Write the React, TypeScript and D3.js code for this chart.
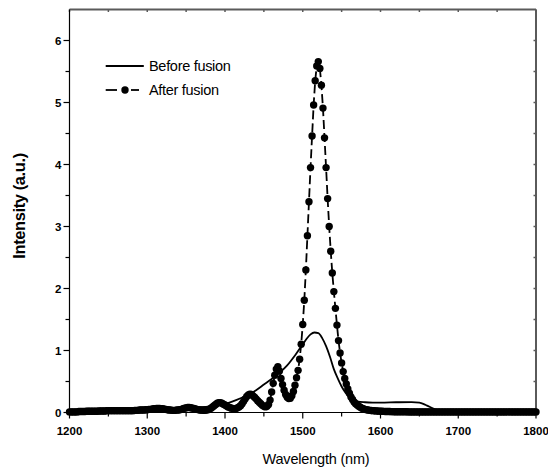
import React from "react";
import * as d3 from "d3";

const W = 548;
const H = 468;

// After fusion: sampled every 2 nm from 1200 to 1800
const afterWavelengths: number[] = d3.range(1200, 1801, 2);
const afterValues: number[] = [
  // 1200-1300
  0.01, 0.01, 0.01, 0.01, 0.01, 0.01, 0.015, 0.015, 0.015, 0.015, 0.015, 0.02, 0.02, 0.02, 0.02, 0.02,
  0.02, 0.02, 0.02, 0.025, 0.025, 0.025, 0.025, 0.025, 0.03, 0.03, 0.03, 0.03, 0.03, 0.03, 0.03, 0.03, 0.03, 0.03, 0.03, 0.03,
  0.03, 0.03, 0.03, 0.03, 0.03, 0.03, 0.035, 0.035, 0.035, 0.04, 0.04, 0.04, 0.04, 0.045, 0.045,
  // 1302-1340
  0.05, 0.05, 0.055, 0.06, 0.06, 0.065, 0.065, 0.065, 0.06, 0.06, 0.055, 0.05, 0.045, 0.04, 0.04, 0.035, 0.035, 0.035, 0.04, 0.04,
  // 1342-1380
  0.045, 0.05, 0.06, 0.07, 0.075, 0.08, 0.08, 0.078, 0.07, 0.065, 0.058, 0.05, 0.045, 0.04, 0.038, 0.036, 0.036, 0.04, 0.045, 0.055,
  // 1382-1420
  0.07, 0.09, 0.11, 0.13, 0.15, 0.16, 0.16, 0.15, 0.135, 0.12, 0.105, 0.09, 0.08, 0.07, 0.065, 0.063, 0.065, 0.075, 0.09, 0.11,
  // 1422-1460
  0.14, 0.18, 0.22, 0.26, 0.285, 0.295, 0.29, 0.27, 0.245, 0.22, 0.19, 0.165, 0.14, 0.115, 0.1, 0.09, 0.1, 0.13, 0.2, 0.33,
  // 1462-1500
  0.47, 0.6, 0.7, 0.74, 0.67, 0.55, 0.45, 0.36, 0.29, 0.245, 0.225, 0.23, 0.27, 0.34, 0.44, 0.56, 0.68, 0.86, 1.1, 1.42,
  // 1502-1540
  1.81, 2.3, 2.85, 3.4, 3.95, 4.46, 4.96, 5.35, 5.59, 5.66, 5.55, 5.28, 4.91, 4.43, 3.95, 3.45, 3.0, 2.6, 2.25, 1.95,
  // 1542-1580
  1.68, 1.41, 1.16, 0.96, 0.8, 0.66, 0.55, 0.46, 0.38, 0.31, 0.25, 0.21, 0.17, 0.14, 0.12, 0.1, 0.085, 0.07, 0.06, 0.05,
  // 1582-1620
  0.045, 0.04, 0.035, 0.032, 0.03, 0.028, 0.026, 0.024, 0.022, 0.02, 0.019, 0.018, 0.017, 0.016, 0.015, 0.015, 0.014, 0.014, 0.013, 0.013,
  // 1622-1660
  0.012, 0.012, 0.012, 0.011, 0.011, 0.011, 0.011, 0.01, 0.01, 0.01, 0.01, 0.01, 0.01, 0.01, 0.01, 0.01, 0.01, 0.01, 0.01, 0.01,
  // 1662-1700
  0.01, 0.01, 0.01, 0.01, 0.01, 0.01, 0.01, 0.01, 0.01, 0.01, 0.01, 0.01, 0.01, 0.01, 0.01, 0.01, 0.01, 0.01, 0.01, 0.01,
  // 1702-1740
  0.01, 0.01, 0.01, 0.01, 0.01, 0.01, 0.01, 0.01, 0.01, 0.01, 0.01, 0.01, 0.01, 0.01, 0.01, 0.01, 0.01, 0.01, 0.01, 0.01,
  // 1742-1780
  0.01, 0.01, 0.01, 0.01, 0.01, 0.01, 0.01, 0.01, 0.01, 0.01, 0.01, 0.01, 0.01, 0.01, 0.01, 0.01, 0.01, 0.01, 0.01, 0.01,
  // 1782-1800
  0.01, 0.01, 0.01, 0.01, 0.01, 0.01, 0.01, 0.01, 0.01, 0.01,
];

// Before fusion
const beforeWavelengths: number[] = [
  1200, 1250, 1300, 1350, 1380, 1400, 1410, 1420, 1430, 1440, 1450, 1460, 1470, 1480, 1490, 1500,
  1505, 1510, 1515, 1520, 1525, 1530, 1535, 1540, 1545, 1550, 1555, 1560, 1565, 1570, 1580, 1590,
  1600, 1620, 1640, 1650, 1655, 1660, 1665, 1670, 1675, 1680, 1700, 1750, 1800,
];
const beforeValues: number[] = [
  0.01, 0.02, 0.04, 0.07, 0.1, 0.14, 0.18, 0.23, 0.29, 0.36, 0.45, 0.54, 0.64, 0.76, 0.92, 1.1,
  1.19, 1.26, 1.29, 1.28, 1.2, 1.07, 0.9, 0.7, 0.55, 0.42, 0.32, 0.25, 0.21, 0.18, 0.165, 0.16,
  0.16, 0.165, 0.168, 0.158, 0.14, 0.11, 0.08, 0.05, 0.02, 0.01, 0.01, 0.01, 0.01,
];

const xTicks: number[] = [1200, 1300, 1400, 1500, 1600, 1700, 1800];
const xMinorTicks: number[] = [1250, 1350, 1450, 1550, 1650, 1750];
const yTicks: number[] = [0, 1, 2, 3, 4, 5, 6];
const yMinorTicks: number[] = [0.5, 1.5, 2.5, 3.5, 4.5, 5.5];

const seriesNames: string[] = ["Before fusion", "After fusion"];

const FONT = "'Liberation Sans', Arial, Helvetica, sans-serif";

export default function App() {
  const left = 69.5;
  const right = 536;
  const top = 9.5;
  const bottom = 412.5;

  const x = d3.scaleLinear().domain([1200, 1800]).range([left, right]);
  const y = d3.scaleLinear().domain([0, 6.5]).range([bottom, top]);

  const afterPts: [number, number][] = afterWavelengths.map((w, i) => [w, afterValues[i]]);
  const beforePts: [number, number][] = beforeWavelengths.map((w, i) => [w, beforeValues[i]]);

  const beforePath = d3
    .line<[number, number]>()
    .x((d) => x(d[0]))
    .y((d) => y(d[1]))
    .curve(d3.curveMonotoneX)(beforePts) as string;
  const afterPath = d3
    .line<[number, number]>()
    .x((d) => x(d[0]))
    .y((d) => y(d[1]))(afterPts) as string;

  const gray = "#5a5a5a";

  return (
    <svg
      width={W}
      height={H}
      style={{ position: "absolute", left: 0, top: 0, background: "#fff" }}
      fontFamily={FONT}
    >
      <rect x={0} y={0} width={W} height={H} fill="#fff" />

      {/* top and right frame (gray) */}
      <line x1={left} x2={right} y1={top} y2={top} stroke={gray} strokeWidth={2} />
      <line x1={right} x2={right} y1={top} y2={bottom} stroke={gray} strokeWidth={2} />
      {[...xTicks, ...xMinorTicks].map((t) => (
        <line key={"tt" + t} x1={x(t)} x2={x(t)} y1={top} y2={top + 2.5} stroke={gray} strokeWidth={1.5} />
      ))}
      {[...yTicks, ...yMinorTicks].map((t) => (
        <line key={"rt" + t} x1={right - 2.5} x2={right} y1={y(t)} y2={y(t)} stroke={gray} strokeWidth={1.5} />
      ))}

      {/* before fusion */}
      <path d={beforePath} fill="none" stroke="#000" strokeWidth={1.8} />

      {/* after fusion */}
      <path d={afterPath} fill="none" stroke="#000" strokeWidth={1.8} strokeDasharray="9,4" />
      {afterPts.map((d, i) => (
        <circle key={"c" + i} cx={x(d[0])} cy={y(d[1])} r={3.7} fill="#000" />
      ))}

      {/* left axis */}
      <line x1={left} x2={left} y1={top} y2={bottom} stroke="#000" strokeWidth={1.2} />
      {yTicks.map((t) => (
        <g key={"yl" + t}>
          <line x1={left - 6} x2={left} y1={y(t)} y2={y(t)} stroke="#000" strokeWidth={1.2} />
          <text x={left - 8} y={y(t)} dy="0.36em" textAnchor="end" fontSize={11.5} fontWeight="bold">
            {t}
          </text>
        </g>
      ))}
      {yMinorTicks.map((t) => (
        <line key={"ym" + t} x1={left - 4} x2={left} y1={y(t)} y2={y(t)} stroke="#000" strokeWidth={1.2} />
      ))}

      {/* bottom axis */}
      <line x1={left} x2={right} y1={bottom} y2={bottom} stroke="#000" strokeWidth={1.2} />
      {xTicks.map((t) => (
        <g key={"xl" + t}>
          <line x1={x(t)} x2={x(t)} y1={bottom} y2={bottom + 6} stroke="#000" strokeWidth={1.2} />
          <text x={x(t)} y={435} textAnchor="middle" fontSize={11.5} fontWeight="bold">
            {t}
          </text>
        </g>
      ))}
      {xMinorTicks.map((t) => (
        <line key={"xm" + t} x1={x(t)} x2={x(t)} y1={bottom} y2={bottom + 4} stroke="#000" strokeWidth={1.2} />
      ))}

      {/* axis titles */}
      <text x={316} y={464} textAnchor="middle" fontSize={14.5} letterSpacing={-0.2}>
        Wavelength (nm)
      </text>
      <text
        transform={`translate(25,206) rotate(-90)`}
        textAnchor="middle"
        fontSize={16.5}
        fontWeight="bold"
        letterSpacing={-0.4}
      >
        Intensity (a.u.)
      </text>

      {/* legend */}
      <line x1={105.7} x2={143.8} y1={66} y2={66} stroke="#000" strokeWidth={1.8} />
      <text x={149} y={71} fontSize={14.5} letterSpacing={-0.3}>
        {seriesNames[0]}
      </text>
      <line x1={105.7} x2={117} y1={90} y2={90} stroke="#000" strokeWidth={1.8} />
      <line x1={131} x2={139} y1={90} y2={90} stroke="#000" strokeWidth={1.8} />
      <circle cx={125} cy={90} r={3.7} fill="#000" />
      <text x={149} y={95} fontSize={14.5} letterSpacing={-0.3}>
        {seriesNames[1]}
      </text>
    </svg>
  );
}
